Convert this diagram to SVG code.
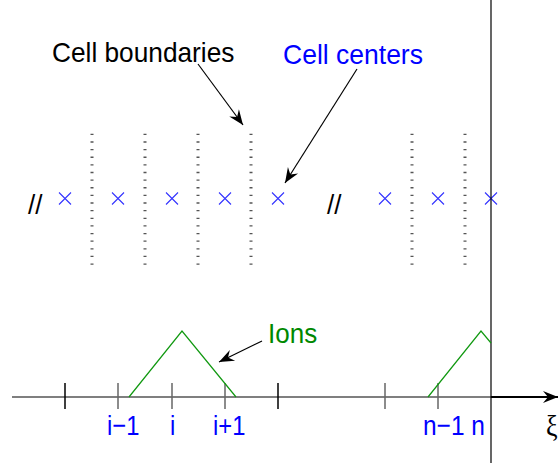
<svg xmlns="http://www.w3.org/2000/svg" width="560" height="463" viewBox="0 0 560 463">
<style>
text{font-family:"Liberation Sans",Arial,sans-serif}
.lbl{font-size:26px}
.idx{font-size:24.5px;fill:#0000ff}
.blue{fill:#0000ff}
.green{fill:#008800}
.dot{stroke:#555;stroke-width:3;stroke-dasharray:1.3 6.33;fill:none}
.cross{stroke:#3333ff;stroke-width:1.1;fill:none}
.tick{stroke-width:1.5;fill:none}
.ion{stroke:#119911;stroke-width:1.2;fill:none}
.conn{stroke:#000;stroke-width:1.2;fill:none}
</style>
<defs>
<marker id="ah" viewBox="-16 -7 17 14" refX="0" refY="0" markerWidth="17" markerHeight="14" markerUnits="userSpaceOnUse" orient="auto">
<path d="M0,0 L-15,-6 L-10,0 L-15,6 Z" fill="#000"/>
</marker>
</defs>
<rect width="560" height="463" fill="#fff"/>
<g id="labels">
<text id="cell-boundaries" class="lbl" transform="translate(52,62) scale(1.01,1.08)">Cell boundaries</text>
<text id="cell-centers" class="lbl blue" transform="translate(283,64) scale(1.02,1.08)">Cell centers</text>
<text id="ions" class="lbl green" transform="translate(268,343) scale(1,1.08)">Ions</text>
</g>
<g id="boundaries">
<line class="dot" x1="92" y1="133.7" x2="92" y2="265"/>
<line class="dot" x1="145" y1="133.7" x2="145" y2="265"/>
<line class="dot" x1="198" y1="133.7" x2="198" y2="265"/>
<line class="dot" x1="251" y1="133.7" x2="251" y2="265"/>
<line class="dot" x1="412" y1="133.7" x2="412" y2="265"/>
<line class="dot" x1="465" y1="133.7" x2="465" y2="265"/>
</g>
<g id="centers">
<path class="cross" d="M59,192.5 l12,12 M71,192.5 l-12,12"/>
<path class="cross" d="M112,192.5 l12,12 M124,192.5 l-12,12"/>
<path class="cross" d="M166,192.5 l12,12 M178,192.5 l-12,12"/>
<path class="cross" d="M219,192.5 l12,12 M231,192.5 l-12,12"/>
<path class="cross" d="M272,192.5 l12,12 M284,192.5 l-12,12"/>
<path class="cross" d="M379,192.5 l12,12 M391,192.5 l-12,12"/>
<path class="cross" d="M432,192.5 l12,12 M444,192.5 l-12,12"/>
<path class="cross" d="M485,192.5 l12,12 M497,192.5 l-12,12"/>
</g>
<g id="breaks">
<text class="lbl" transform="translate(28,214) scale(1,1.08)">//</text>
<text class="lbl" transform="translate(327,214) scale(1,1.08)">//</text>
</g>
<g id="boundary-wall">
<line x1="491" y1="0" x2="491" y2="463" stroke="#000" stroke-width="1.2"/>
</g>
<g id="axis">
<line x1="12" y1="397" x2="491" y2="397" stroke="#000" stroke-width="1.2"/>
<line x1="491" y1="397" x2="558" y2="397" stroke="#000" stroke-width="2.2" marker-end="url(#ah)"/>
<line class="tick" stroke="#000" x1="65" y1="383" x2="65" y2="409"/>
<line class="tick" stroke="#666" x1="118" y1="383" x2="118" y2="409"/>
<line class="tick" stroke="#666" x1="172" y1="383" x2="172" y2="409"/>
<line class="tick" stroke="#666" x1="225" y1="383" x2="225" y2="409"/>
<line class="tick" stroke="#000" x1="278" y1="383" x2="278" y2="409"/>
<line class="tick" stroke="#666" x1="385" y1="383" x2="385" y2="409"/>
<line class="tick" stroke="#666" x1="438" y1="383" x2="438" y2="409"/>
<text class="idx" transform="translate(107,435) scale(0.97,1.15)">i−1</text>
<text class="idx" transform="translate(170,435) scale(0.97,1.15)">i</text>
<text class="idx" transform="translate(213,435) scale(0.97,1.15)">i+1</text>
<text class="idx" transform="translate(423,435) scale(1,1.15)">n−1 n</text>
<text transform="translate(546,436) scale(1,1.1)" style="font-family:'Liberation Serif','Times New Roman',serif;font-size:26px">ξ</text>
</g>
<g id="ion-shapes">
<polyline class="ion" points="129,397 182,331 236,397"/>
<polyline class="ion" points="428,397 481,331 491,343"/>
</g>
<g id="connectors">
<line class="conn" x1="198" y1="64" x2="243" y2="125" marker-end="url(#ah)"/>
<line class="conn" x1="357" y1="69" x2="285" y2="183" marker-end="url(#ah)"/>
<line class="conn" x1="262" y1="341" x2="219" y2="362" marker-end="url(#ah)"/>
</g>
</svg>
